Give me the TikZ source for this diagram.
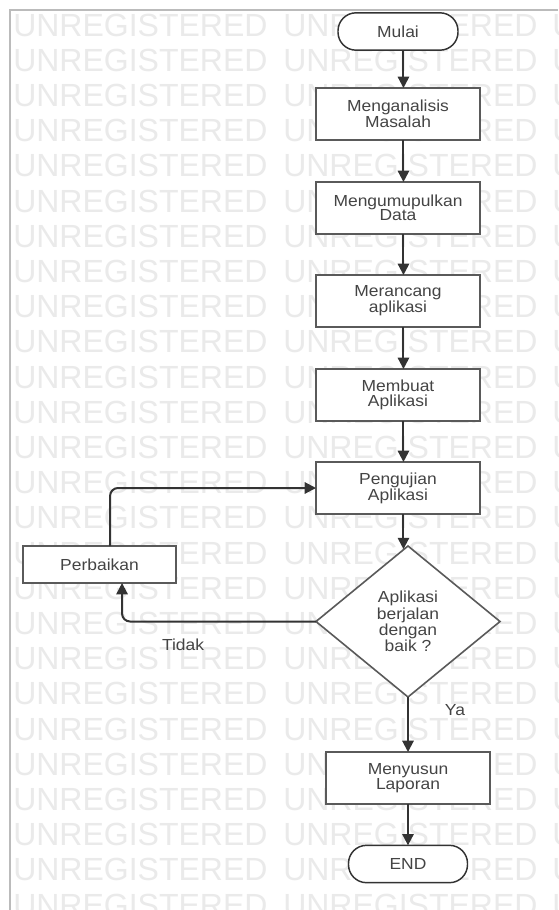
\documentclass[tikz,border=0pt]{standalone}
\usepackage{fontspec}
\usetikzlibrary{shapes.geometric,arrows.meta}
\newfontfamily\lblfont[FakeStretch=1.09]{Liberation Sans}
\newfontfamily\wmfont{Liberation Sans}
\definecolor{inkgray}{HTML}{444444}
\definecolor{edgegray}{HTML}{5A5A5A}
\definecolor{linegray}{HTML}{333333}
\definecolor{framegray}{HTML}{BBBBBB}
\definecolor{wmgray}{HTML}{EAEAEA}

\begin{document}
\begin{tikzpicture}[x=0.75pt,y=-0.75pt,
  txt/.style={font=\lblfont\fontsize{12pt}{10.9pt}\selectfont, text=inkgray, align=center},
  procbox/.style={txt, rectangle, draw=edgegray, line width=1.5pt, fill=white,
    minimum width=123pt, minimum height=39pt, inner sep=0pt, outer sep=0pt},
  termbox/.style={txt, rectangle, rounded corners=13.5pt, draw=linegray, line width=1.1pt,
    fill=white, minimum height=28pt, inner sep=0pt, outer sep=0pt},
  decision/.style={txt, diamond, aspect=1.22, draw=edgegray, line width=1.2pt, fill=white,
    minimum width=138pt, minimum height=113.25pt, inner sep=0pt, outer sep=0pt},
  flow/.style={draw=linegray, line width=1.5pt, -{Triangle[length=8.5pt,width=8.5pt]}},
  wmark/.style={font=\wmfont\fontsize{24pt}{24pt}\selectfont, text=wmgray,
    anchor=west, inner sep=0pt}
]
\useasboundingbox (0,0) rectangle (558,910);
\fill[white] (0,0) rectangle (558,910);

% repeated watermark text
\begin{scope}
  \clip (0,0) rectangle (558,910);
  \foreach \k in {0,...,25}
    \foreach \xx in {13,283,552}
      \node[wmark] at (\xx,{25+35.2*\k}) {UNREGISTERED};
\end{scope}

% outer frame (top and left edges)
\draw[framegray, line width=1.5pt] (10,910) -- (10,10) -- (558,10);

% flowchart nodes
\node[termbox, minimum width=90pt] (mulai) at (398,31.5) {Mulai};
\node[procbox] (mengan) at (398,114) {Menganalisis\\Masalah};
\node[procbox] (kumpul) at (398,208) {Mengumupulkan\\Data};
\node[procbox] (rancang) at (398,301) {Merancang\\aplikasi};
\node[procbox] (buat) at (398,395) {Membuat\\Aplikasi};
\node[procbox] (uji) at (398,488) {Pengujian\\Aplikasi};
\node[decision] (cek) at (408,621.5) {Aplikasi\\berjalan\\dengan\\baik ?};
\node[procbox] (susun) at (408,778) {Menyusun\\Laporan};
\node[termbox, minimum width=89.25pt] (selesai) at (408,864) {END};
\node[procbox, minimum width=114.75pt, minimum height=27.75pt] (perbaikan) at (99.5,564.5) {Perbaikan};

% branch labels
\node[txt] (ya) at (455,710) {Ya};
\node[txt] (tidak) at (183,645) {Tidak};

% main column connectors
\draw[flow] ([xshift=4.1pt]mulai.south) -- ([xshift=4.1pt]mengan.north);
\draw[flow] ([xshift=4.1pt]mengan.south) -- ([xshift=4.1pt]kumpul.north);
\draw[flow] ([xshift=4.1pt]kumpul.south) -- ([xshift=4.1pt]rancang.north);
\draw[flow] ([xshift=4.1pt]rancang.south) -- ([xshift=4.1pt]buat.north);
\draw[flow] ([xshift=4.1pt]buat.south) -- ([xshift=4.1pt]uji.north);
\coordinate (ujiout) at ([xshift=4.1pt]uji.south);
\draw[flow] (ujiout) -- (ujiout |- cek.93.6);
\draw[flow] (cek.south) -- (susun.north);
\draw[flow] (susun.south) -- (selesai.north);

% repair loop
\coordinate (perbin) at ([xshift=16.9pt]perbaikan.south);
\coordinate (perbout) at ([xshift=7.9pt]perbaikan.north);
\draw[flow, rounded corners=6pt] (cek.west) -| (perbin);
\draw[flow, rounded corners=6pt] (perbout) |- (uji.west);
\end{tikzpicture}
\end{document}
